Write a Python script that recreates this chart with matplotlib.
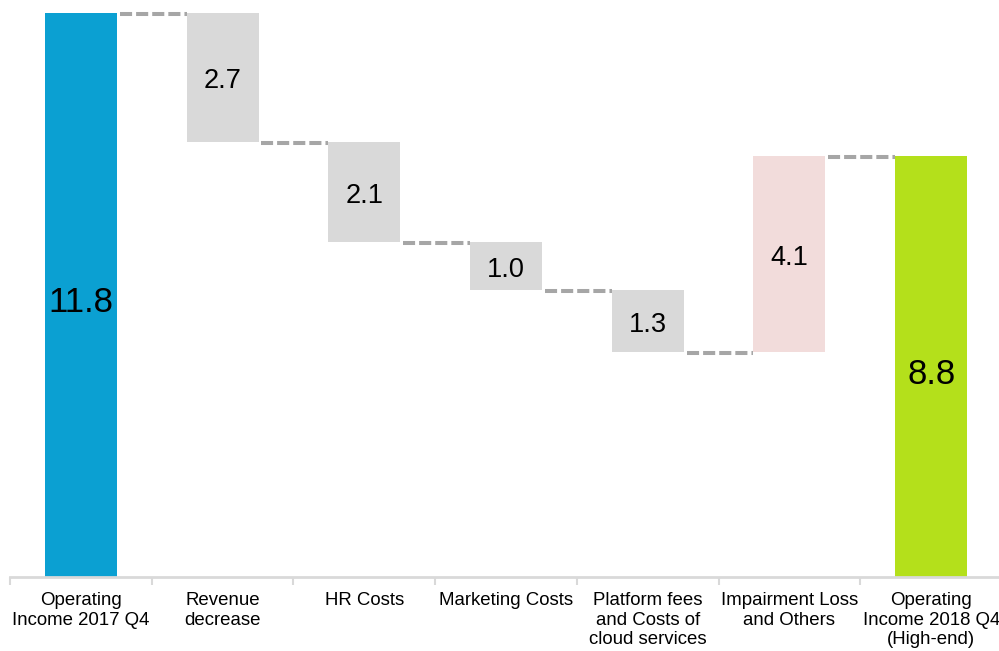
import matplotlib
matplotlib.use("Agg")
import matplotlib.pyplot as plt

categories = ["Operating\nIncome 2017 Q4", "Revenue\ndecrease", "HR Costs", "Marketing Costs",
              "Platform fees\nand Costs of\ncloud services", "Impairment Loss\nand Others",
              "Operating\nIncome 2018 Q4\n(High-end)"]
changes = [11.8, -2.7, -2.1, -1.0, -1.3, 4.1, 8.8]
kinds = ["total", "delta", "delta", "delta", "delta", "delta", "total"]
labels = ["11.8", "2.7", "2.1", "1.0", "1.3", "4.1", "8.8"]

plt.rcParams['font.family'] = ['Liberation Sans', 'DejaVu Sans']

fig = plt.figure(figsize=(9.99, 6.51), dpi=100)
W, H = 999, 651
ax = fig.add_axes([10 / W, 74 / H, 992 / W, 577 / H])

bw = 0.508
running = 0.0
bottoms, heights, colors, levels = [], [], [], []
for i, (c, k) in enumerate(zip(changes, kinds)):
    if k == "total":
        b, h = 0.0, c
        running = c
        col = "#0BA0D2" if i == 0 else "#B4E01B"
    else:
        if c < 0:
            b, h = running + c, -c
            col = "#D9D9D9"
        else:
            b, h = running, c
            col = "#F2DCDB"
        running += c
    bottoms.append(b); heights.append(h); colors.append(col); levels.append(running)

xs = list(range(len(categories)))
ax.bar(xs, heights, bottom=bottoms, width=bw, color=colors, edgecolor="none", zorder=2)

# connectors
for i in range(len(xs) - 1):
    lvl = levels[i]
    ax.plot([xs[i] + bw / 2 + 0.02, xs[i + 1] - bw / 2], [lvl - 0.02, lvl - 0.02],
            color="#A6A6A6", lw=2.9, linestyle=(0, (3.0, 1.0)), dash_capstyle="butt", zorder=1)

# value labels
for i in xs:
    big = kinds[i] == "total"
    fs = 25 if big else 19.5
    off = 0.16 if big else 0.08
    ax.text(xs[i], bottoms[i] + heights[i] / 2 - off, labels[i], ha="center", va="center",
            fontsize=fs, color="black", zorder=3)

ax.set_xlim(-0.5, len(xs) - 0.5)
ax.set_ylim(0, 577 / 47.8)
for s in ["left", "right", "top"]:
    ax.spines[s].set_visible(False)
ax.spines["bottom"].set_color("#D9D9D9")
ax.spines["bottom"].set_linewidth(2)
ax.set_yticks([])
ax.set_xticks(xs)
ax.set_xticklabels(categories, fontsize=13.4, linespacing=1.2, va="top")
ax.tick_params(axis="x", which="major", length=0, pad=11)
ax.set_xticks([x - 0.5 for x in range(len(xs) + 1)], minor=True)
ax.tick_params(axis="x", which="minor", length=6, width=1.5, color="#D9D9D9")

fig.savefig("out.png", dpi=100)
